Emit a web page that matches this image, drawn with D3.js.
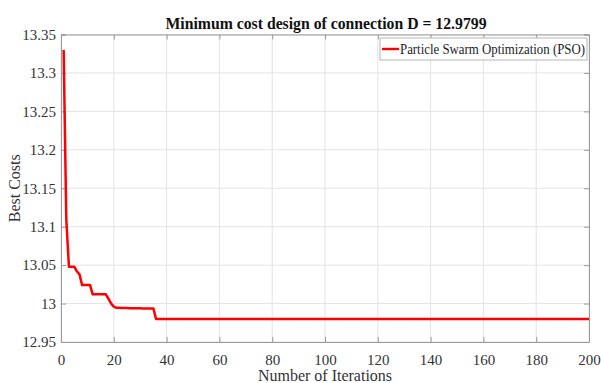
<!DOCTYPE html>
<html>
<head>
<meta charset="utf-8">
<script src="https://cdn.jsdelivr.net/npm/d3@7"></script>
<style>
  html, body { margin: 0; padding: 0; background: #fff; }
  svg { display: block; }
</style>
</head>
<body>
<svg id="chart" width="601" height="383"></svg>
<script>
// Best cost found by PSO at each iteration (1..200)
const iterations = d3.range(1, 201);
const earlyCosts = [
  13.33, 13.11, 13.048, 13.048, 13.048, 13.042, 13.038, 13.024, 13.024, 13.024,
  13.024, 13.012, 13.012, 13.012, 13.012, 13.012, 13.012, 13.006, 13.0, 12.996,
  12.9945, 12.9944, 12.9943, 12.9943, 12.9942, 12.994, 12.994, 12.9939, 12.9938, 12.9938,
  12.9937, 12.9937, 12.9936, 12.9936, 12.9935
];
const finalCost = 12.9799;
const bestCosts = iterations.map(i => i <= earlyCosts.length ? earlyCosts[i - 1] : finalCost);

const xTicks = [0, 20, 40, 60, 80, 100, 120, 140, 160, 180, 200];
const yTicks = [12.95, 13, 13.05, 13.1, 13.15, 13.2, 13.25, 13.3, 13.35];

const titleText = "Minimum cost design of connection D = " + finalCost;
const xLabel = "Number of Iterations";
const yLabel = "Best Costs";
const seriesName = "Particle Swarm Optimization (PSO)";

const SERIF = "'Liberation Serif', 'Times New Roman', serif";
const svg = d3.select("#chart");
const m = { left: 61, right: 589, top: 34.5, bottom: 342 };

const x = d3.scaleLinear().domain([0, 200]).range([m.left, m.right]);
const y = d3.scaleLinear().domain([12.95, 13.35]).range([m.bottom, m.top]);

// grid
svg.append("g").selectAll("line").data(xTicks).join("line")
  .attr("x1", d => x(d)).attr("x2", d => x(d))
  .attr("y1", m.top).attr("y2", m.bottom)
  .attr("stroke", "#e3e3e3").attr("stroke-width", 1);
svg.append("g").selectAll("line").data(yTicks).join("line")
  .attr("x1", m.left).attr("x2", m.right)
  .attr("y1", d => y(d)).attr("y2", d => y(d))
  .attr("stroke", "#e3e3e3").attr("stroke-width", 1);

// axes (ticks pointing inward) on all four sides
const fmtY = d => String(+d.toFixed(2));
const axB = svg.append("g").attr("transform", `translate(0,${m.bottom})`)
  .call(d3.axisBottom(x).tickValues(xTicks).tickSize(-5).tickPadding(12).tickFormat(d3.format("d")));
const axT = svg.append("g").attr("transform", `translate(0,${m.top})`)
  .call(d3.axisTop(x).tickValues(xTicks).tickSize(-5).tickFormat(""));
const axL = svg.append("g").attr("transform", `translate(${m.left},0)`)
  .call(d3.axisLeft(y).tickValues(yTicks).tickSize(-5).tickPadding(5).tickFormat(fmtY));
const axR = svg.append("g").attr("transform", `translate(${m.right},0)`)
  .call(d3.axisRight(y).tickValues(yTicks).tickSize(-5).tickFormat(""));
[axB, axT, axL, axR].forEach(g => {
  g.attr("font-family", null).attr("font-size", null);
  g.select(".domain").attr("stroke", "#9a9a9a").attr("stroke-width", 1);
  g.selectAll(".tick line").attr("stroke", "#9a9a9a");
  g.selectAll("text").style("font-family", SERIF)
    .style("font-size", "15px").style("fill", "#333");
});

// convergence curve
const line = d3.line().x((d, i) => x(iterations[i])).y(d => y(d));
svg.append("path").datum(bestCosts)
  .attr("d", line)
  .attr("fill", "none").attr("stroke", "#ff0000")
  .attr("stroke-width", 2.5).attr("stroke-linejoin", "round");

// title and axis labels
svg.append("text").attr("x", 326).attr("y", 29).attr("text-anchor", "middle")
  .style("font-family", SERIF).style("font-size", "16px").style("font-weight", "bold")
  .style("fill", "#111")
  .attr("textLength", 321).attr("lengthAdjust", "spacingAndGlyphs")
  .text(titleText);
svg.append("text").attr("x", (m.left + m.right) / 2).attr("y", 381).attr("text-anchor", "middle")
  .style("font-family", SERIF).style("font-size", "16px").style("fill", "#333")
  .text(xLabel);
svg.append("text").attr("transform", `translate(20,${(m.top + m.bottom) / 2}) rotate(-90)`)
  .attr("text-anchor", "middle")
  .style("font-family", SERIF).style("font-size", "16px").style("fill", "#333")
  .text(yLabel);

// legend
const lg = svg.append("g").attr("transform", "translate(380,38)");
lg.append("rect").attr("width", 207).attr("height", 22)
  .attr("fill", "#fff").attr("stroke", "#b5b5b5").attr("stroke-width", 1);
lg.append("line").attr("x1", 2).attr("x2", 19).attr("y1", 11).attr("y2", 11)
  .attr("stroke", "#ff0000").attr("stroke-width", 2.4);
lg.append("text").attr("x", 20).attr("y", 16)
  .style("font-family", SERIF).style("font-size", "14px").style("fill", "#222")
  .attr("textLength", 185).attr("lengthAdjust", "spacingAndGlyphs")
  .text(seriesName);
</script>
</body>
</html>
